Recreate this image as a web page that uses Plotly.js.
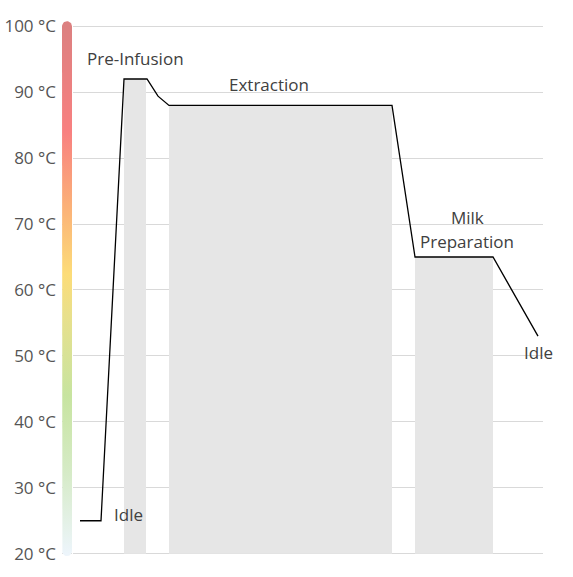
<!DOCTYPE html>
<html><head><meta charset="utf-8">
<script src="https://cdn.plot.ly/plotly-3.0.1.min.js"></script>
<style>html,body{margin:0;padding:0;background:#fff}#chart{width:573px;height:577px}</style>
</head><body><div id="chart"></div>
<script>
// Temperature profile (time in arbitrary units, temperature in °C)
const timeX = [7, 28, 51, 74, 85, 96, 319, 342, 420, 465];
const tempY = [25, 25, 92, 92, 89.4, 88, 88, 65, 65, 53];
// Shaded phases
const phaseStart = [51, 96, 342];
const phaseEnd = [73, 319, 420];
const phaseTemp = [92, 88, 65];
// Axis ticks
const tickVals = [20, 30, 40, 50, 60, 70, 80, 90, 100];
const tickText = ['20 °C', '30 °C', '40 °C', '50 °C', '60 °C', '70 °C', '80 °C', '90 °C', '100 °C'];
const yMin = 20, yMax = 100;

// Gradient scale bar outline (rounded ends) on its own narrow axis
const capR = 0.76; // in °C units (≈5px)
const barX = [], barY = [];
for (let i = 0; i <= 16; i++) { const t = Math.PI * i / 16; barX.push(Math.cos(t)); barY.push(yMax + capR * Math.sin(t)); }
for (let i = 0; i <= 16; i++) { const t = Math.PI + Math.PI * i / 16; barX.push(Math.cos(t)); barY.push(yMin + 0.4 + capR * Math.sin(t)); }
barX.push(barX[0]); barY.push(barY[0]);

const traces = [
  {
    type: 'scatter', mode: 'lines', x: barX, y: barY, xaxis: 'x2', yaxis: 'y',
    fill: 'toself', line: {width: 0, color: 'rgba(0,0,0,0)'},
    fillgradient: {type: 'vertical', start: yMin, stop: yMax, colorscale: [
      [0, '#edf5fb'], [0.15, '#d6ebc8'], [0.3, '#c7e4a0'], [0.45, '#e8e08c'],
      [0.53, '#fcdc78'], [0.66, '#fbb078'], [0.8, '#f88080'], [1, '#dc8080']]},
    hoverinfo: 'skip', showlegend: false
  },
  {
    type: 'bar', x: phaseStart, width: phaseEnd.map((e, i) => e - phaseStart[i]),
    offset: 0, base: yMin, y: phaseTemp.map(v => v - yMin),
    marker: {color: '#e6e6e6', line: {width: 0}}, hoverinfo: 'skip', showlegend: false
  },
  {
    type: 'scatter', mode: 'lines', x: timeX, y: tempY,
    line: {color: '#000000', width: 1.3}, showlegend: false
  }
];

const lblFont = {family: 'Open Sans, sans-serif', size: 17, color: '#404040'};
const layout = {
  width: 573, height: 577,
  margin: {l: 62, r: 30, t: 21, b: 20},
  paper_bgcolor: '#ffffff', plot_bgcolor: '#ffffff',
  barmode: 'overlay',
  xaxis: {domain: [11 / 481, 1], range: [0, 470], showgrid: false, zeroline: false, showticklabels: false, showline: false},
  xaxis2: {domain: [0, 10 / 481], range: [-1, 1], showgrid: false, zeroline: false, showticklabels: false, showline: false, anchor: 'y'},
  yaxis: {range: [19.5, 100.8], tickvals: tickVals, ticktext: tickText, showgrid: true, gridcolor: '#d9d9d9', gridwidth: 1,
    zeroline: false, showline: false, ticks: '', ticklabelstandoff: 16,
    tickfont: {family: 'Open Sans, sans-serif', size: 17, color: '#555555'}},
  annotations: [
    {x: 62, y: 95.1, text: 'Pre-Infusion', showarrow: false, font: lblFont, xref: 'x', yref: 'y'},
    {x: 196, y: 91.2, text: 'Extraction', showarrow: false, font: lblFont},
    {x: 394, y: 71, text: 'Milk', showarrow: false, font: lblFont},
    {x: 394, y: 67.3, text: 'Preparation', showarrow: false, font: lblFont},
    {x: 55, y: 25.9, text: 'Idle', showarrow: false, font: lblFont},
    {x: 465, y: 50.5, text: 'Idle', showarrow: false, font: lblFont}
  ]
};
Plotly.newPlot('chart', traces, layout, {displayModeBar: false, staticPlot: true});
</script></body></html>
